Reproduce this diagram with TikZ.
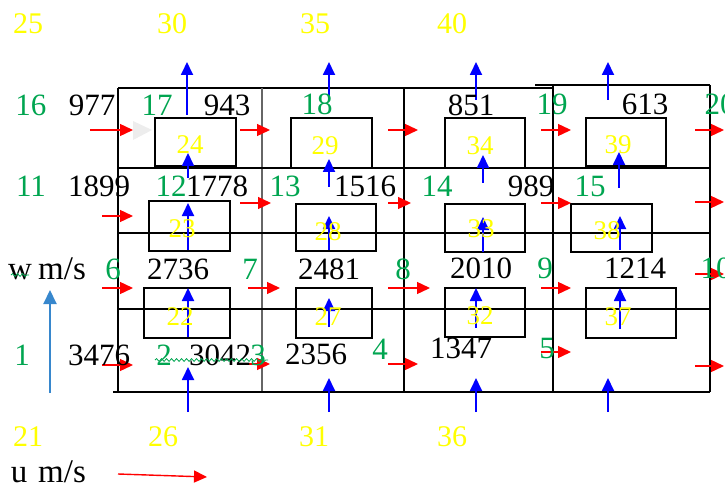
\documentclass[tikz,border=0pt]{standalone}
\usepackage{fontspec}
\setmainfont{Liberation Serif}
\usetikzlibrary{arrows.meta,decorations.pathmorphing}
\definecolor{lblgreen}{RGB}{0,165,80}
\definecolor{lblyellow}{RGB}{255,255,0}
\definecolor{wblue}{RGB}{0,0,255}
\definecolor{ured}{RGB}{255,0,0}
\definecolor{axisblue}{RGB}{55,135,205}
\begin{document}
\begin{tikzpicture}[x=1pt,y=-1pt,
  gridline/.style={black,line width=1.4pt},
  gridgray/.style={black!60,line width=2.2pt},
  cellbox/.style={black,line width=1.4pt},
  uvec/.style={ured,line width=1.4pt,-{Triangle[length=13pt,width=12pt]}},
  wvec/.style={wblue,line width=1.8pt,-{Triangle[length=13pt,width=12pt]}},
  axisvec/.style={axisblue,line width=2pt,-{Triangle[length=14pt,width=13pt]}},
  txt/.style={inner sep=0pt,font=\fontsize{31}{31}\selectfont},
  val/.style={txt,black},
  nodeid/.style={txt,lblgreen},
  cellid/.style={inner sep=0pt,lblyellow,font=\fontsize{30}{30}\selectfont},
  boxid/.style={inner sep=0pt,lblyellow,font=\fontsize{27}{27}\selectfont},
  unit/.style={inner sep=0pt,black,anchor=base,font=\fontsize{33}{33}\selectfont},
  squiggle/.style={lblgreen,line width=0.8pt,decorate,
    decoration={snake,amplitude=1.4pt,segment length=5pt}}
]
\useasboundingbox (0,0) rectangle (725,489);

% grid lines of the staggered mesh
\draw[gridline] (118,88) -- (553,88);
\draw[gridline] (535,85) -- (710,85);
\draw[gridline] (118,88) -- (118,392);
\draw[gridgray] (262,88) -- (262,392);
\draw[gridline] (404,88) -- (404,392);
\draw[gridline] (553,85) -- (553,392);
\draw[gridline] (710,85) -- (710,392);
\draw[gridline] (118,168) -- (710,168);
\draw[gridline] (118,233) -- (710,233);
\draw[gridline] (118,309) -- (710,309);
\draw[gridline] (113,392) -- (710,392);

% control volumes
\draw[cellbox] (155,118) rectangle (236,166);
\draw[cellbox] (291,118) rectangle (372,168);
\draw[cellbox] (445,118) rectangle (525,168);
\draw[cellbox] (586,118) rectangle (666,166);
\draw[cellbox] (149,201) rectangle (230,251);
\draw[cellbox] (296,204) rectangle (376,251);
\draw[cellbox] (445,204) rectangle (525,252);
\draw[cellbox] (571,204) rectangle (652,252);
\draw[cellbox] (144,288) rectangle (230,338);
\draw[cellbox] (296,288) rectangle (372,338);
\draw[cellbox] (445,288) rectangle (525,337);
\draw[cellbox] (586,288) rectangle (676,338);

% faint shadow head next to the first u arrow
\fill[black!7] (133,121) -- (152,130) -- (133,140) -- cycle;

% horizontal velocity u
\foreach \xa/\ya/\xb/\yb in {
  90/130/133/130, 240/130/270/130, 388/130/418/130, 541/130/571/130, 695/130/724/130,
  102/216/133/216, 240/203/271/203, 388/203/411/203, 541/203/571/203, 695/202/724/202,
  102/288/133/288, 248/288/280/288, 388/288/430/288, 541/288/571/288, 695/274/724/274,
  102/365/133/365, 240/364/270/364, 388/364/418/364, 541/352/571/352, 695/366/724/366}
  \draw[uvec] (\xa,\ya) -- (\xb,\yb);

% vertical velocity w
\foreach \xa/\ya/\xb/\yb in {
  187/115/187/62, 329/100/329/62, 476/100/476/62, 608/100/608/62,
  188/178/188/153, 329/187/329/159, 483/183/483/155, 619/188/619/152,
  188/250/188/203, 329/250/329/216, 483/252/483/217, 620/250/620/216,
  188/337/188/288, 329/327/329/298, 476/328/476/288, 620/329/620/288,
  188/412/188/367, 329/412/329/378, 476/412/476/378, 608/412/608/378}
  \draw[wvec] (\xa,\ya) -- (\xb,\yb);

% legend axes
\coordinate (wtail) at (50,393);
\coordinate (wtip) at (50,290);
\draw[axisvec] (wtail) -- (wtip);
\coordinate (utail) at (118,474);
\coordinate (utip) at (207,477);
\draw[uvec] (utail) -- (utip);
\node[unit] (wname) at (20,279) {w};
\node[unit] (wunit) at (62,279) {m/s};
\node[unit] (uname) at (19,482) {u};
\node[unit] (uunit) at (62,482) {m/s};
\draw[squiggle] (11,275) -- (29,275);

% outer cell numbers
\node[cellid] (c25) at (28,24) {25};
\node[cellid] (c30) at (172,24) {30};
\node[cellid] (c35) at (315,24) {35};
\node[cellid] (c40) at (452,24) {40};
\node[cellid] (c21) at (28,437) {21};
\node[cellid] (c26) at (163,437) {26};
\node[cellid] (c31) at (314,437) {31};
\node[cellid] (c36) at (452,437) {36};

% node numbers
\node[nodeid] (n16) at (31,105) {16};
\node[nodeid] (n17) at (157,105) {17};
\node[nodeid] (n18) at (317,104) {18};
\node[nodeid] (n19) at (552,104) {19};
\node[nodeid] (n20) at (720,104) {20};
\node[nodeid] (n11) at (31,186) {11};
\node[nodeid] (n12) at (171,186) {12};
\node[nodeid] (n13) at (285,186) {13};
\node[nodeid] (n14) at (437,186) {14};
\node[nodeid] (n15) at (590,186) {15};
\node[nodeid] (n6) at (113,269) {6};
\node[nodeid] (n7) at (250,269) {7};
\node[nodeid] (n8) at (403,269) {8};
\node[nodeid] (n9) at (545,268) {9};
\node[nodeid] (n10) at (716,268) {10};
\node[nodeid] (n1) at (22,355) {1};
\node[nodeid] (n2) at (164,355) {2};
\node[nodeid] (n3) at (258,355) {3};
\node[nodeid] (n4) at (380,349) {4};
\node[nodeid] (n5) at (547,349) {5};

% nodal values
\node[val] (v977) at (92,105) {977};
\node[val] (v943) at (227,105) {943};
\node[val] (v851) at (471,105) {851};
\node[val] (v613) at (645,104) {613};
\node[val] (v1899) at (99,186) {1899};
\node[val] (v1778) at (217,186) {1778};
\node[val] (v1516) at (365,186) {1516};
\node[val] (v989) at (531,186) {989};
\node[val] (v2736) at (178,269) {2736};
\node[val] (v2481) at (329,269) {2481};
\node[val] (v2010) at (481,268) {2010};
\node[val] (v1214) at (635,268) {1214};
\node[val] (v3476) at (99,355) {3476};
\node[val] (v3042) at (220,355) {3042};
\node[val] (v2356) at (316,354) {2356};
\node[val] (v1347) at (461,348) {1347};
\draw[squiggle] (155,360) -- (268,360);

% control volume numbers
\node[boxid] (b24) at (190,145) {24};
\node[boxid] (b29) at (325,146) {29};
\node[boxid] (b34) at (480,146) {34};
\node[boxid] (b39) at (618,145) {39};
\node[boxid] (b23) at (182,229) {23};
\node[boxid] (b28) at (328,232) {28};
\node[boxid] (b33) at (481,229) {33};
\node[boxid] (b38) at (607,231) {38};
\node[boxid] (b22) at (180,317) {22};
\node[boxid] (b27) at (328,317) {27};
\node[boxid] (b32) at (480,316) {32};
\node[boxid] (b37) at (618,317) {37};
\end{tikzpicture}
\end{document}
